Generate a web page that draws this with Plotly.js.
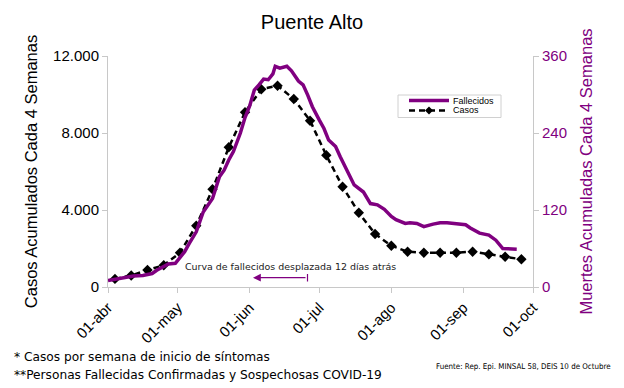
<!DOCTYPE html>
<html><head><meta charset="utf-8">
<script src="https://cdn.plot.ly/plotly-3.0.1.min.js"></script>
<style>html,body{margin:0;padding:0;background:#fff}#chart{width:624px;height:388px}</style>
</head><body><div id="chart"></div>
<script>
// Casos acumulados cada 4 semanas (semanal)
const casosFechas = ['2020-04-04','2020-04-11','2020-04-18','2020-04-25','2020-05-02','2020-05-09','2020-05-16','2020-05-23','2020-05-30','2020-06-06','2020-06-13','2020-06-20','2020-06-27','2020-07-04','2020-07-11','2020-07-18','2020-07-25','2020-08-01','2020-08-08','2020-08-15','2020-08-22','2020-08-29','2020-09-05','2020-09-12','2020-09-19','2020-09-26'];
const casosValores = [420,600,880,1130,1780,3185,5076,7257,9076,10271,10458,9767,8639,6842,5211,3860,2753,2145,1834,1782,1782,1782,1834,1699,1574,1439];

// Muertes acumuladas cada 4 semanas (curva desplazada 12 días)
const fallecidosFechas = ['2020-04-01','2020-04-08','2020-04-12','2020-04-16','2020-04-20','2020-04-22','2020-04-25','2020-04-27','2020-04-30','2020-05-02','2020-05-04','2020-05-06','2020-05-09','2020-05-12','2020-05-16','2020-05-19','2020-05-21','2020-05-23','2020-05-25','2020-05-28','2020-05-30','2020-06-01','2020-06-03','2020-06-05','2020-06-07','2020-06-09','2020-06-11','2020-06-12','2020-06-14','2020-06-17','2020-06-19','2020-06-22','2020-06-24','2020-06-26','2020-06-28','2020-07-01','2020-07-03','2020-07-05','2020-07-08','2020-07-10','2020-07-13','2020-07-16','2020-07-20','2020-07-23','2020-07-26','2020-07-29','2020-08-01','2020-08-03','2020-08-07','2020-08-09','2020-08-12','2020-08-15','2020-08-19','2020-08-22','2020-08-25','2020-08-29','2020-09-02','2020-09-04','2020-09-08','2020-09-12','2020-09-15','2020-09-18','2020-09-20','2020-09-24'];
const fallecidosValores = [10,15,17,18,21,26,32,36,37,45,55,68,86,117,138,172,182,198,211,240,264,282,307,315,324,323,332,344,341,344,337,321,315,299,281,260,247,229,219,203,181,159,148,130,128,121,110,105,99,100,99,94,98,100,100,99,97,92,84,81,73,60,60,59];

const tickFechas = ['2020-04-01','2020-05-01','2020-06-01','2020-07-01','2020-08-01','2020-09-01','2020-10-01'];
const tickTextos = ['01-abr','01-may','01-jun','01-jul','01-ago','01-sep','01-oct'];
const casosTicks = [0,4000,8000,12000];
const muertesTicks = [0,120,240,360];

const W = 624, H = 388, L = 108, R = 533, T = 56, B = 287;
const PURPLE = '#800080';
const px = v => (v - L) / (R - L);
const py = v => (B - v) / (B - T);

const traces = [
  {x: fallecidosFechas, y: fallecidosValores, yaxis: 'y2', type: 'scatter', mode: 'lines',
   name: 'Fallecidos', line: {color: PURPLE, width: 3.5}, showlegend: false},
  {x: casosFechas, y: casosValores, type: 'scatter', mode: 'lines+markers',
   name: 'Casos', line: {color: '#000', width: 2.5, dash: '6px,4px'},
   marker: {symbol: 'diamond', size: 8, color: '#000'}, showlegend: false}
];

const axisLine = '#c8c8c8';
const layout = {
  width: W, height: H,
  margin: {l: L, r: W - R, t: T, b: H - B},
  paper_bgcolor: '#fff', plot_bgcolor: '#fff',
  separators: ',.',
  font: {family: 'Liberation Sans, Arial, sans-serif', color: '#000'},
  title: {text: 'Puente Alto', x: 0.5, xref: 'container', y: 1 - 22/H, yref: 'container', yanchor: 'middle',
          font: {size: 20, family: 'Liberation Sans, Arial, sans-serif', color: '#000'}},
  xaxis: {type: 'date', range: ['2020-04-01','2020-10-01'], tickvals: tickFechas, ticktext: tickTextos,
          tickangle: -45, tickfont: {size: 15}, showgrid: false, zeroline: false,
          showline: true, linecolor: axisLine, linewidth: 1, ticks: 'outside', ticklen: 5, tickcolor: axisLine},
  yaxis: {range: [0, 12000], tickvals: casosTicks, tickformat: ',d', tickfont: {size: 15},
          showgrid: false, zeroline: false, showline: true, linecolor: axisLine, ticks: 'outside', ticklen: 5, tickcolor: axisLine,
          title: {text: 'Casos Acumulados Cada 4 Semanas', font: {size: 16.5}, standoff: 11}},
  yaxis2: {range: [0, 360], tickvals: muertesTicks, overlaying: 'y', side: 'right', tickfont: {size: 15, color: PURPLE},
          showgrid: false, zeroline: false, showline: true, linecolor: axisLine, ticks: 'outside', ticklen: 5, tickcolor: axisLine,
          title: {text: 'Muertes Acumuladas Cada 4 Semanas', font: {size: 16.5, color: PURPLE}, standoff: 14}},
  showlegend: false,
  shapes: [
    // legend box
    {type: 'rect', xref: 'paper', yref: 'paper', x0: px(398), x1: px(501), y0: py(95), y1: py(117.5),
     line: {color: '#d0d0d0', width: 1}, fillcolor: '#fff'},
    {type: 'line', xref: 'paper', yref: 'paper', x0: px(409), x1: px(449), y0: py(100.5), y1: py(100.5),
     line: {color: PURPLE, width: 3.5}},
    {type: 'line', xref: 'paper', yref: 'paper', x0: px(409), x1: px(449), y0: py(110.5), y1: py(110.5),
     line: {color: '#000', width: 2.5, dash: '6px,4px'}},
    {type: 'path', xref: 'paper', yref: 'paper',
     path: `M ${px(429)} ${py(106.5)} L ${px(433)} ${py(110.5)} L ${px(429)} ${py(114.5)} L ${px(425)} ${py(110.5)} Z`,
     fillcolor: '#000', line: {color: '#000', width: 0}},
    // annotation arrow end bar
    {type: 'line', xref: 'paper', yref: 'paper', x0: px(307.5), x1: px(307.5), y0: py(274), y1: py(281.5),
     line: {color: PURPLE, width: 1.2}}
  ],
  annotations: [
    {xref: 'paper', yref: 'paper', x: px(451), y: py(100.5), xanchor: 'left', yanchor: 'middle', showarrow: false,
     text: 'Fallecidos', font: {size: 9, family: 'Liberation Sans, Arial, sans-serif'}},
    {xref: 'paper', yref: 'paper', x: px(451), y: py(110.5), xanchor: 'left', yanchor: 'middle', showarrow: false,
     text: 'Casos', font: {size: 9, family: 'Liberation Sans, Arial, sans-serif'}},
    {xref: 'paper', yref: 'paper', x: px(183), y: py(266.5), xanchor: 'left', yanchor: 'middle', showarrow: false,
     text: 'Curva de fallecidos desplazada 12 días atrás', font: {size: 9.45, family: 'DejaVu Sans', color: '#222'}},
    {xref: 'paper', yref: 'paper', x: px(253), y: py(277.7), ax: 54, ay: 0, axref: 'pixel', ayref: 'pixel',
     showarrow: true, arrowhead: 2, arrowsize: 1.3, arrowwidth: 1.2, arrowcolor: PURPLE, text: ''},
    {xref: 'paper', yref: 'paper', x: px(12), y: py(357), xanchor: 'left', yanchor: 'middle', showarrow: false,
     text: '* Casos por semana de inicio de síntomas', font: {size: 12.2, family: 'DejaVu Sans'}},
    {xref: 'paper', yref: 'paper', x: px(12), y: py(375), xanchor: 'left', yanchor: 'middle', showarrow: false,
     text: '**Personas Fallecidas Confirmadas y Sospechosas COVID-19', font: {size: 12.2, family: 'DejaVu Sans'}},
    {xref: 'paper', yref: 'paper', x: px(434), y: py(366), xanchor: 'left', yanchor: 'middle', showarrow: false,
     text: 'Fuente: Rep. Epi. MINSAL 58, DEIS 10 de Octubre', font: {size: 7.9, family: 'DejaVu Sans Condensed, DejaVu Sans'}}
  ]
};

Plotly.newPlot('chart', traces, layout, {staticPlot: true, displayModeBar: false});
</script>
</body></html>
